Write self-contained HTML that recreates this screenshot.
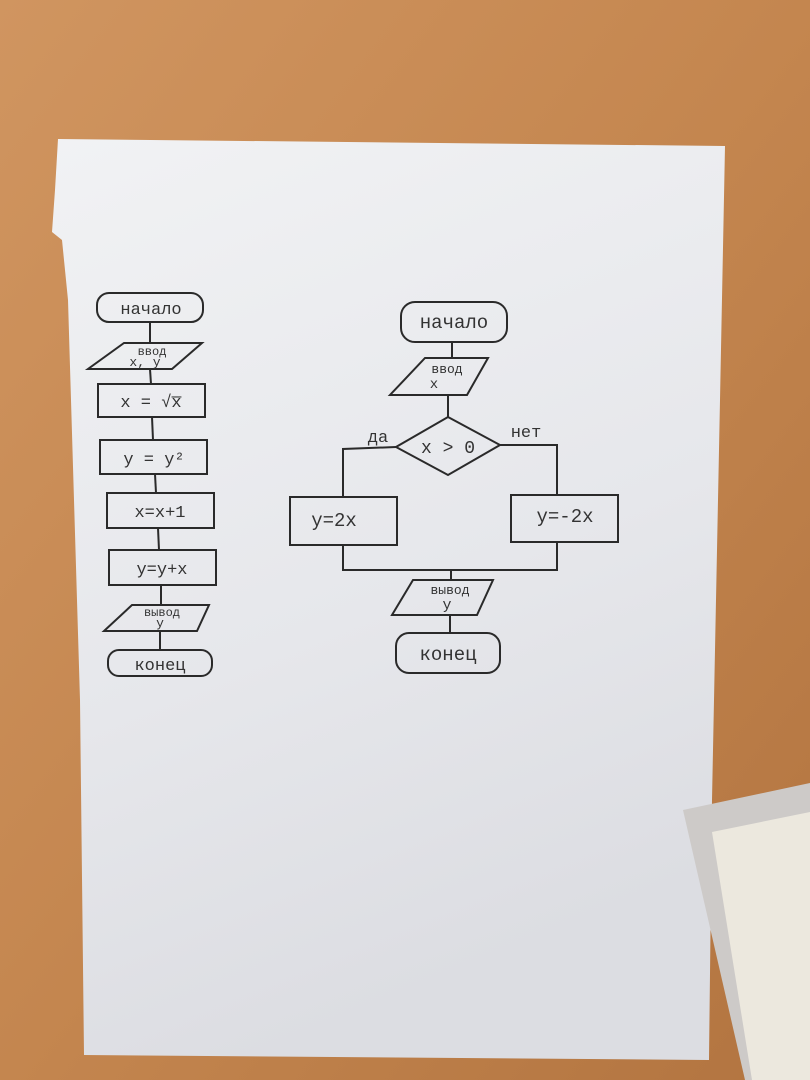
<!DOCTYPE html>
<html><head><meta charset="utf-8"><style>
html,body{margin:0;padding:0;width:810px;height:1080px;overflow:hidden;background:#c48752}
svg{display:block}
text{font-family:"Liberation Mono","DejaVu Sans Mono",monospace;fill:#333}
</style></head><body>
<svg width="810" height="1080" viewBox="0 0 810 1080" xmlns="http://www.w3.org/2000/svg">
<defs>
<linearGradient id="wood" x1="0" y1="0" x2="1" y2="1">
<stop offset="0" stop-color="#d09560"/><stop offset="0.5" stop-color="#c4864f"/><stop offset="1" stop-color="#b27440"/>
</linearGradient>
<linearGradient id="paper" x1="0" y1="0" x2="0.3" y2="1">
<stop offset="0" stop-color="#f1f2f4"/><stop offset="0.6" stop-color="#e6e7eb"/><stop offset="1" stop-color="#dcdde2"/>
</linearGradient>
</defs>
<rect width="810" height="1080" fill="url(#wood)"/>
<polygon points="58,139 725,146 720,400 712,800 709,1060 84,1055 80,700 68,300 62,240 52,232 55,190" fill="url(#paper)"/>
<!-- object bottom right -->
<polygon points="683,810 810,783 810,1080 745,1080" fill="#cdcac8"/>
<polygon points="712,832 810,812 810,1080 752,1080" fill="#ece8de"/>

<g stroke="#2a2a2a" stroke-width="2" fill="none">
<!-- left chart -->
<rect x="97" y="293" width="106" height="29" rx="12"/>
<line x1="150" y1="322" x2="150" y2="343"/>
<polygon points="124,343 202,343 172,369 88,369"/>
<line x1="150" y1="369" x2="151" y2="384"/>
<rect x="98" y="384" width="107" height="33"/>
<line x1="152" y1="417" x2="153" y2="440"/>
<rect x="100" y="440" width="107" height="34"/>
<line x1="155" y1="474" x2="156" y2="493"/>
<rect x="107" y="493" width="107" height="35"/>
<line x1="158" y1="528" x2="159" y2="550"/>
<rect x="109" y="550" width="107" height="35"/>
<line x1="161" y1="585" x2="161" y2="605"/>
<polygon points="132,605 209,605 197,631 104,631"/>
<line x1="160" y1="631" x2="160" y2="650"/>
<rect x="108" y="650" width="104" height="26" rx="11"/>
<!-- right chart -->
<rect x="401" y="302" width="106" height="40" rx="14"/>
<line x1="452" y1="342" x2="452" y2="358"/>
<polygon points="425,358 488,358 467,395 390,395"/>
<line x1="448" y1="395" x2="448" y2="417"/>
<polygon points="448,417 500,445 448,475 396,447"/>
<polyline points="396,447 343,449 343,497"/>
<polyline points="500,445 557,445 557,495"/>
<rect x="290" y="497" width="107" height="48"/>
<rect x="511" y="495" width="107" height="47"/>
<polyline points="343,545 343,570 557,570 557,542"/>
<line x1="451" y1="570" x2="451" y2="580"/>
<polygon points="413,580 493,580 477,615 392,615"/>
<line x1="450" y1="615" x2="450" y2="633"/>
<rect x="396" y="633" width="104" height="40" rx="13"/>
</g>

<g font-size="17" text-anchor="middle">
<text x="151" y="314">начало</text>
<text x="152" y="355" font-size="12">ввод</text>
<text x="145" y="366" font-size="13">x, y</text>
<text x="151" y="407">x = √x̅</text>
<text x="154" y="464">y = y²</text>
<text x="160" y="517">x=x+1</text>
<text x="162" y="574">y=y+x</text>
<text x="162" y="616" font-size="12">вывод</text>
<text x="160" y="627" font-size="13">y</text>
<text x="160" y="670">конец</text>

<text x="454" y="328" font-size="19">начало</text>
<text x="447" y="373" font-size="13">ввод</text>
<text x="434" y="388" font-size="14">x</text>
<text x="448" y="453" font-size="18">x &gt; 0</text>
<text x="378" y="442" font-size="17">да</text>
<text x="526" y="437" font-size="17">нет</text>
<text x="334" y="526" font-size="19">y=2x</text>
<text x="565" y="522" font-size="19">y=-2x</text>
<text x="450" y="594" font-size="13">вывод</text>
<text x="447" y="609" font-size="15">y</text>
<text x="448" y="660" font-size="19">конец</text>
</g>
</svg>
</body></html>
